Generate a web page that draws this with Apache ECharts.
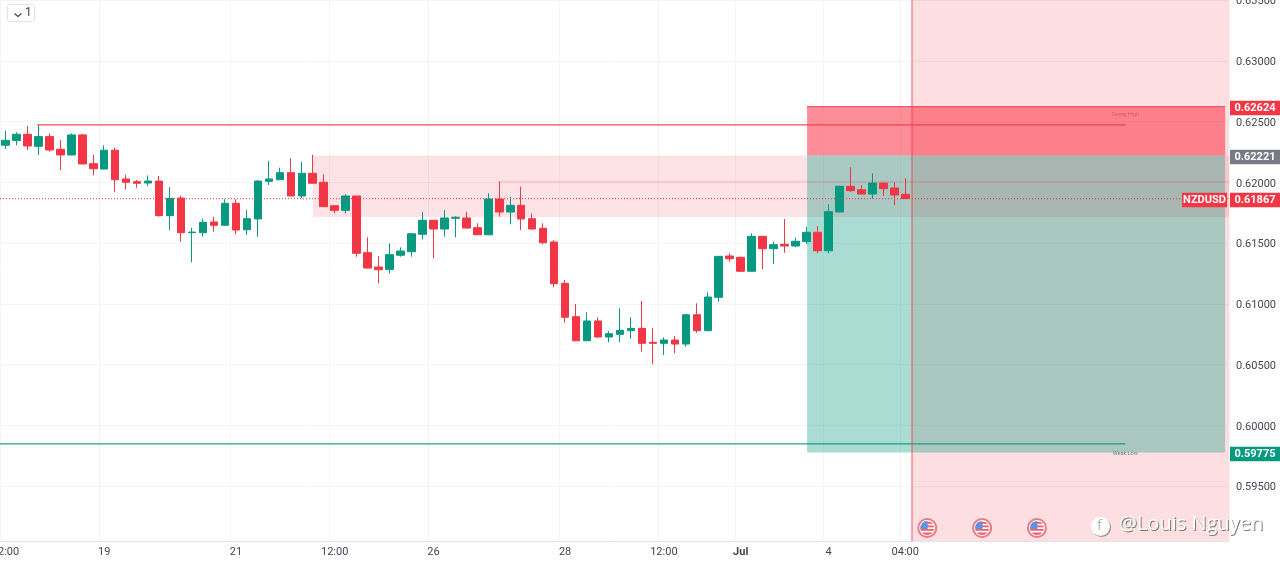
<!DOCTYPE html>
<html><head><meta charset="utf-8">
<style>html,body{margin:0;padding:0;background:#fff}#c{width:1280px;height:562px}</style>
<script src="https://cdn.jsdelivr.net/npm/echarts@6/dist/echarts.min.js"></script>
</head><body><div id="c"></div>
<script>
const opens=[.62306,.62344,.62396,.62297,.62377,.62273,.62226,.62391,.62154,.62110,.62265,.62028,.62006,.61995,.62011,.61726,.61871,.61586,.61586,.61674,.61647,.61828,.61610,.61699,.62009,.62022,.62080,.61888,.62075,.62001,.61808,.61770,.61888,.61421,.61303,.61284,.61400,.61429,.61573,.61688,.61616,.61704,.61707,.61627,.61569,.61863,.61756,.61811,.61701,.61622,.61509,.61169,.60894,.60696,.60859,.60727,.60749,.60779,.60798,.60683,.60675,.60702,.60669,.60910,.60779,.61054,.61394,.61383,.61268,.61556,.61454,.61490,.61476,.61512,.61589,.61437,.61756,.61968,.61940,.61904,.61995,.61954,.61902];
const closes=[.62347,.62396,.62300,.62377,.62267,.62226,.62391,.62152,.62113,.62265,.62022,.62001,.61993,.62011,.61726,.61869,.61586,.61591,.61671,.61647,.61828,.61608,.61701,.62011,.62028,.62080,.61888,.62075,.61993,.61800,.61770,.61888,.61416,.61295,.61281,.61405,.61435,.61577,.61688,.61616,.61707,.61713,.61624,.61569,.61863,.61756,.61811,.61699,.61616,.61503,.61166,.60889,.60696,.60859,.60727,.60754,.60782,.60798,.60675,.60675,.60702,.60669,.60910,.60779,.61056,.61391,.61372,.61268,.61556,.61454,.61487,.61476,.61515,.61589,.61437,.61759,.61968,.61932,.61904,.61995,.61948,.61896,.61867];
const lows=[.62275,.62306,.62267,.62226,.62253,.62102,.62223,.62149,.62058,.62108,.61923,.61943,.61956,.61970,.61718,.61608,.61512,.61342,.61553,.61594,.61641,.61573,.61567,.61553,.61978,.62020,.61888,.61871,.61993,.61800,.61745,.61745,.61388,.61292,.61169,.61251,.61388,.61388,.61531,.61375,.61553,.61548,.61622,.61569,.61564,.61718,.61655,.61608,.61614,.61490,.61136,.60845,.60691,.60694,.60721,.60683,.60683,.60713,.60606,.60504,.60579,.60593,.60647,.60762,.60774,.61018,.61347,.61265,.61265,.61287,.61328,.61421,.61470,.61490,.61416,.61416,.61754,.61923,.61902,.61866,.61888,.61814,.61861];
const highs=[.62426,.62413,.62465,.62473,.62404,.62349,.62404,.62399,.62226,.62306,.62286,.62063,.62020,.62058,.62053,.61960,.61890,.61627,.61701,.61718,.61861,.61861,.61773,.62020,.62176,.62121,.62198,.62170,.62228,.62067,.61808,.61902,.61888,.61548,.61394,.61498,.61465,.61577,.61756,.61690,.61773,.61721,.61759,.61663,.61910,.62006,.61882,.61965,.61745,.61663,.61526,.61196,.60999,.60930,.60889,.60776,.60963,.60889,.61023,.60803,.60724,.60735,.60916,.61004,.61095,.61394,.61416,.61388,.61581,.61556,.61512,.61699,.61545,.61635,.61641,.61820,.61973,.62124,.61978,.62075,.61995,.62001,.62034];
const tickIndex=[0,9,21,30,39,51,60,67,75,82];
const tickText=['12:00','19','21','12:00','26','28','12:00','Jul','4','04:00'];
const priceTicks=[.595,.6,.605,.61,.615,.62,.625,.63,.635];
const barSlots=112, fullSlots=1280/(1229/112);
const swingHigh=.62473, weakLow=.59846, lastPrice=.61867;
const riskTop=.62624, entry=.62221, target=.59775;
const zoneTop=.62221, zoneBottom=.61715, zoneLine=.62005;
const eventBars=[84,89,94];
const axisMin=.59047, axisMax=.63502;

const RED='#f23645', GREEN='#089981', TXT='#434651';
const cats=Array.from({length:barSlots},(_,i)=>{const k=tickIndex.indexOf(i);return k<0?'':tickText[k]});
const candles=opens.map((o,i)=>[o,closes[i],lows[i],highs[i]]);
const flag='image://data:image/svg+xml;charset=utf-8,'+encodeURIComponent(
'<svg xmlns="http://www.w3.org/2000/svg" width="40" height="40" viewBox="0 0 40 40"><defs><clipPath id="a"><circle cx="20" cy="20" r="14"/></clipPath></defs><circle cx="20" cy="20" r="18" fill="#fff" stroke="#e8606c" stroke-width="4"/><g clip-path="url(#a)"><rect x="4" y="4" width="32" height="32" fill="#fff"/><rect x="4" y="8" width="32" height="3.5" fill="#e8414f"/><rect x="4" y="15" width="32" height="3.5" fill="#e8414f"/><rect x="4" y="22" width="32" height="3.5" fill="#e8414f"/><rect x="4" y="29" width="32" height="5" fill="#e8414f"/><rect x="4" y="4" width="17" height="18" fill="#3b82e0"/></g></svg>');

function tag(x,y,w,text,color){return{coord:[x,y],symbol:'rect',symbolSize:[w,14.5],symbolOffset:[0,1.5],itemStyle:{color},
 label:{show:true,position:'inside',formatter:text,color:'#fff',fontFamily:'Roboto',fontSize:11,fontWeight:'bold'}}}
const tagX=(1230+25)/(1229/112), sym=(1204.5)/(1229/112);

function seg(x0,y0,x1,color,dash,width){return{type:'custom',xAxisIndex:1,yAxisIndex:1,z:3,silent:true,clip:false,
 data:[[x0,y0,x1]],renderItem:(p,api)=>{
  const a=api.coord([api.value(0),api.value(1)]),b=api.coord([api.value(2),api.value(1)]);
  return{type:'line',shape:{x1:a[0],y1:a[1],x2:b[0],y2:b[1]},style:{stroke:color,lineWidth:width||1.2,lineDash:dash||[2000,1],fill:null}}}}}

const chart=echarts.init(document.getElementById('c'),null,{renderer:'canvas'});
chart.setOption({
 animation:false,backgroundColor:'#fff',
 grid:[{left:0,top:0,width:1229,height:541,outerBoundsMode:'none'},{left:0,top:0,width:1280,height:541,outerBoundsMode:'none'}],
 xAxis:[{type:'category',gridIndex:0,data:cats,boundaryGap:true,
   axisLine:{show:true,lineStyle:{color:'#e0e3eb'}},axisTick:{show:false},
   axisLabel:{show:true,interval:0,margin:6,fontFamily:'Roboto',fontSize:11,color:TXT,hideOverlap:false,
     formatter:v=>v==='Jul'?'{b|Jul}':v,rich:{b:{fontWeight:'bold',fontSize:11,color:TXT,fontFamily:'Roboto'}}},
   splitLine:{show:true,interval:(i)=>tickIndex.includes(i),lineStyle:{color:'#f3f4f6',width:1}}},
  {type:'value',gridIndex:1,min:0,max:fullSlots,show:false,splitLine:{show:false}}],
 yAxis:[{type:'value',gridIndex:0,position:'right',min:axisMin,max:axisMax,
   axisLine:{show:false},axisTick:{show:false,customValues:priceTicks},
   axisLabel:{margin:7,showMinLabel:true,customValues:priceTicks,formatter:v=>'{p|'+v.toFixed(5)+'}',color:TXT,
     rich:{p:{fontFamily:'Roboto',fontSize:11,color:TXT,padding:[3,0,0,0]}}},
   splitLine:{show:true,lineStyle:{color:'#f3f4f6',width:1}}},
  {type:'value',gridIndex:1,min:axisMin,max:axisMax,show:false,splitLine:{show:false}}],
 series:[
  {type:'line',xAxisIndex:1,yAxisIndex:1,data:[],z:1,silent:true,
   markArea:{silent:true,z:1,data:[
     [{coord:[83.11,axisMax],itemStyle:{color:'rgba(242,54,69,0.16)'}},{coord:[barSlots,axisMin]}],
     [{coord:[28.52,zoneTop],itemStyle:{color:'rgba(242,54,69,0.14)'}},{coord:[barSlots,zoneBottom]}],
     [{coord:[73.55,riskTop],itemStyle:{color:'rgba(252,50,70,0.55)'}},{coord:[111.65,entry]}],
     [{coord:[73.55,entry],itemStyle:{color:'rgba(8,153,129,0.34)'}},{coord:[111.65,target]}]
   ]},
   markPoint:{silent:true,z:6,animation:false,data:[
     tag(tagX,riskTop,50,riskTop.toFixed(5),RED),
     tag(tagX,entry,50,entry.toFixed(5),'#787b86'),
     tag(tagX,lastPrice,50,lastPrice.toFixed(5),RED),
     tag(sym,lastPrice,45,'NZDUSD',RED),
     tag(tagX,target,50,target.toFixed(5),GREEN),
     {coord:[102.55,riskTop-.00065],symbol:'circle',symbolSize:0,label:{show:true,position:'inside',formatter:'Swing High',color:'#d9606c',fontSize:5.5,fontFamily:'Roboto'}},
     {coord:[102.55,target-.00005],symbol:'circle',symbolSize:0,label:{show:true,position:'inside',formatter:'Weak Low',color:'#5f8f88',fontSize:5.5,fontFamily:'Roboto'}}
   ]}},
  seg(3.4,swingHigh,102.55,'rgba(242,54,69,.9)'),
  seg(0,weakLow,102.55,'rgba(8,153,129,.9)'),
  seg(45.4,zoneLine,barSlots,'rgba(242,54,69,0.14)',null,2),
  seg(73.55,riskTop,111.65,'rgba(242,54,69,.75)'),
  seg(0,lastPrice,barSlots,'rgba(242,54,69,.85)',[1,2]),
  {type:'custom',xAxisIndex:1,yAxisIndex:1,z:3,silent:true,clip:false,data:[[83.11,axisMax,axisMin]],
   renderItem:(p,api)=>{const a=api.coord([api.value(0),api.value(1)]),b=api.coord([api.value(0),api.value(2)]);
    return{type:'line',shape:{x1:a[0],y1:a[1],x2:b[0],y2:b[1]},style:{stroke:RED,lineWidth:1.5,opacity:.55,fill:null}}}},
  {type:'candlestick',xAxisIndex:0,yAxisIndex:0,data:candles,z:2,barWidth:8,clip:true,silent:true,
   itemStyle:{color:GREEN,color0:RED,borderColor:GREEN,borderColor0:RED,borderWidth:1}},
  {type:'scatter',xAxisIndex:0,yAxisIndex:0,data:eventBars.map(i=>[i,.59154]),symbol:flag,symbolSize:20,z:5,silent:true}
 ],
 graphic:[
  {type:'rect',left:7,top:4,shape:{width:27,height:17,r:2},style:{fill:'#fff',stroke:'#e0e3eb'},z:10},
  {type:'polyline',left:12,top:11,shape:{points:[[0,0],[3.5,3],[7,0]]},style:{stroke:'#434651',lineWidth:1.3,fill:null},z:11},
  {type:'text',left:25,top:7,style:{text:'1',font:'12px Roboto',fill:'#434651'},z:11},
  {type:'circle',left:1092,top:518,shape:{r:9.5},style:{fill:'rgba(110,110,110,.75)'},z:12},
  {type:'circle',left:1091,top:517,shape:{r:9.5},style:{fill:'#fff'},z:12},
  {type:'text',left:1097,top:518,style:{text:'f',font:'15px "Open Sans"',fill:'#b9b9b9'},z:13},
  {type:'text',left:1120,top:515,style:{text:'@Louis Nguyen',font:'20px "Open Sans"',fill:'rgba(90,90,90,.8)'},z:13},
  {type:'text',left:1119,top:514,style:{text:'@Louis Nguyen',font:'20px "Open Sans"',fill:'#fff'},z:14}
 ]
});
</script></body></html>
